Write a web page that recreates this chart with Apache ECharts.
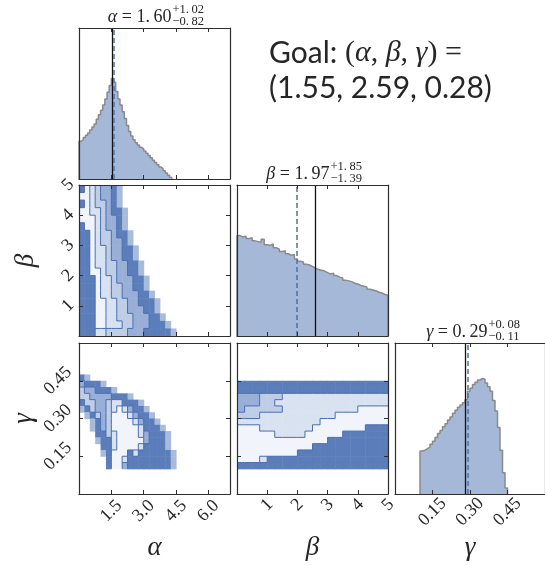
<!DOCTYPE html>
<html><head><meta charset="utf-8">
<script src="https://cdn.jsdelivr.net/npm/echarts@6/dist/echarts.min.js"></script>
<style>html,body{margin:0;padding:0;background:#fff}#c{width:545px;height:565px}</style>
</head><body><div id="c"></div>
<script>
// ---------------- data ----------------
const alphaRange = [0, 7];
const betaRange = [0, 5];
const gammaRange = [0, 0.6];
const alphaTicks = [1.5, 3.0, 4.5, 6.0];
const betaTicks = [1, 2, 3, 4, 5];
const gammaTicks = [0.15, 0.30, 0.45];

const truthValues = { alpha: 1.55, beta: 2.59, gamma: 0.28 };
const medianValues = { alpha: 1.60, beta: 1.97, gamma: 0.29 };
const medianText = { alpha: '1.\u200960', beta: '1.\u200997', gamma: '0.\u200929' };
const upperErr = { alpha: '+1.\u200902', beta: '+1.\u200985', gamma: '+0.\u200908' };
const lowerErr = { alpha: '\u22120.\u200982', beta: '\u22121.\u200939', gamma: '\u22120.\u200911' };

// 1D histograms (relative heights)
const alphaHistStart = 0, alphaHistWidth = 0.1;
const alphaHist = [0.25,0.26,0.275,0.29,0.305,0.325,0.345,0.365,0.395,0.425,0.455,0.49,0.53,0.575,0.62,0.665,0.64,0.58,0.53,0.49,0.445,0.40,0.355,0.315,0.285,0.26,0.24,0.225,0.21,0.20,0.185,0.17,0.155,0.14,0.125,0.11,0.095,0.08,0.068,0.054,0.04,0.025,0.01];
const betaHistStart = 0, betaHistWidth = 0.1;
const betaHist = [0.665,0.655,0.66,0.645,0.65,0.63,0.625,0.62,0.64,0.605,0.60,0.61,0.585,0.575,0.56,0.565,0.545,0.535,0.54,0.51,0.495,0.49,0.475,0.47,0.46,0.45,0.44,0.435,0.43,0.42,0.41,0.415,0.40,0.39,0.385,0.37,0.365,0.36,0.35,0.345,0.335,0.33,0.325,0.31,0.305,0.30,0.29,0.285,0.275,0.27];
const gammaHistStart = 0.10, gammaHistWidth = 0.01;
const gammaHist = [0.285,0.29,0.30,0.31,0.33,0.35,0.375,0.40,0.42,0.445,0.465,0.49,0.51,0.535,0.555,0.575,0.59,0.605,0.625,0.68,0.70,0.725,0.74,0.755,0.765,0.76,0.735,0.71,0.68,0.62,0.55,0.44,0.29,0.14,0.04];

// 2D density shade levels (rows top -> bottom; 0 empty, 1..4 contour fills, 5 dense points, 6 sparse points)
const abCells = { x0: 0, dx: 0.25, y0: 0, dy: 0.25 };
const alphaBetaShade = [
  "512344560000000000",
  "112344560000000000",
  "512334560000000000",
  "112234556000000000",
  "111234456000000000",
  "511234456000000000",
  "551233455600000000",
  "551233445600000000",
  "551223445560000000",
  "551223445560000000",
  "551223344556000000",
  "551123344556000000",
  "555122344455600000",
  "555122334455600000",
  "555122334445560000",
  "555112233445556000",
  "555112233444556000",
  "555112233344455600",
  "555112223344455560",
  "555223333444555556"
];
const agCells = { x0: 0, dx: 0.25, y0: 0.1, dy: 0.025 };
const alphaGammaShade = [
  "560000000000000000",
  "455560000000000000",
  "344555600000000000",
  "334444555600000000",
  "533443225556000000",
  "653443212455600000",
  "065343111245560000",
  "006543111124556000",
  "006543111112555600",
  "000553211112455560",
  "000655211111455560",
  "000055211112555560",
  "000065111525555556",
  "000005112555555556",
  "000005114555555556"
];
const bgCells = { x0: 0, dx: 0.25, y0: 0.1, dy: 0.025 };
const betaGammaShade = [
  "00000000000000000000",
  "55555555555555555555",
  "55555555555555555555",
  "44433322222222222222",
  "44433222222222222222",
  "43333322222222221111",
  "33322222222221111111",
  "22222222222111111111",
  "11122222221111111555",
  "11111222211111555555",
  "11111111111155555555",
  "11111111115555555555",
  "11111111555555555555",
  "11125555555555555555",
  "55555555555555555555"
];

// ---------------- styling / layout ----------------
const SERIF = '"Liberation Serif","DejaVu Serif",serif';
const SANS = 'Lato,"Open Sans",sans-serif';
const INK = '#262626';
const FRAME = '#2e2e2e';
const BLUE = '#4c72b0';
const shadeColors = { 1: '#f1f4fa', 2: '#d9e2f1', 3: '#bfcde7', 4: '#98afd8', 5: '#5b7dba', 6: '#a9bbda' };
const panel = { w: 151, h: 151, cols: [79, 237, 395], rows: [28, 185, 343] };

const dims = {
  alpha: { range: alphaRange, ticks: alphaTicks, fmt: v => v.toFixed(1), xMargin: 17, yMargin: 21, name: 'α' },
  beta:  { range: betaRange,  ticks: betaTicks,  fmt: v => String(v),   xMargin: 11, yMargin: 11, name: 'β' },
  gamma: { range: gammaRange, ticks: gammaTicks, fmt: v => v.toFixed(2), xMargin: 18, yMargin: 21, name: 'γ' }
};

// panels: [row, col, xDim, yDim(null = histogram), showXLabels, showYLabels]
const panels = [
  [0, 0, 'alpha', null, false, false],
  [1, 0, 'alpha', 'beta', false, true],
  [1, 1, 'beta', null, false, false],
  [2, 0, 'alpha', 'gamma', true, true],
  [2, 1, 'beta', 'gamma', true, false],
  [2, 2, 'gamma', null, true, false]
];

const grid = [], xAxis = [], yAxis = [];
const lineStyleFrame = { color: FRAME, width: 1.2 };
const labelFont = { fontFamily: SERIF, fontSize: 18, color: INK };
const nameFont = { fontFamily: SERIF, fontStyle: 'italic', fontSize: 27, color: INK };

panels.forEach(([r, c, xd, yd, sx, sy], gi) => {
  grid.push({ left: panel.cols[c], top: panel.rows[r], width: panel.w, height: panel.h });
  const X = dims[xd];
  ['bottom', 'top'].forEach(pos => {
    const showLab = pos === 'bottom' && sx;
    xAxis.push({
      type: 'value', gridIndex: gi, position: pos, min: X.range[0], max: X.range[1], z: 6,
      axisLine: { show: true, onZero: false, lineStyle: lineStyleFrame },
      axisTick: { show: true, inside: true, length: 4, customValues: X.ticks, lineStyle: { color: FRAME, width: 1 } },
      axisLabel: showLab ? Object.assign({ show: true, customValues: X.ticks, formatter: X.fmt, rotate: 45,
        align: 'center', verticalAlign: 'middle', margin: X.xMargin }, labelFont) : { show: false },
      splitLine: { show: false },
      name: showLab ? X.name : '', nameLocation: 'middle', nameGap: 40, nameTextStyle: nameFont
    });
  });
  ['left', 'right'].forEach(pos => {
    if (yd) {
      const Y = dims[yd];
      const showLab = pos === 'left' && sy;
      yAxis.push({
        type: 'value', gridIndex: gi, position: pos, min: Y.range[0], max: Y.range[1], z: 6,
        axisLine: { show: true, onZero: false, lineStyle: lineStyleFrame },
        axisTick: { show: true, inside: true, length: 4, customValues: Y.ticks, lineStyle: { color: FRAME, width: 1 } },
        axisLabel: showLab ? Object.assign({ show: true, customValues: Y.ticks, formatter: Y.fmt, rotate: 45,
          align: 'center', verticalAlign: 'middle', margin: Y.yMargin }, labelFont) : { show: false },
        splitLine: { show: false },
        name: showLab ? Y.name : '', nameLocation: 'middle', nameGap: 40, nameTextStyle: nameFont
      });
    } else {
      yAxis.push({
        type: 'value', gridIndex: gi, position: pos, min: 0, max: 1, z: 6,
        axisLine: { show: true, onZero: false, lineStyle: lineStyleFrame },
        axisTick: { show: false }, axisLabel: { show: false }, splitLine: { show: false }
      });
    }
  });
});

function stepData(start, width, vals) {
  const d = [[start, 0]];
  vals.forEach((v, i) => d.push([start + i * width, v]));
  const end = start + vals.length * width;
  d.push([end, vals[vals.length - 1]]);
  d.push([end, 0]);
  return d;
}

function histSeries(gi, start, width, vals, truth, median) {
  return {
    type: 'line', xAxisIndex: 2 * gi, yAxisIndex: 2 * gi, step: 'end', symbol: 'none', silent: true,
    data: stepData(start, width, vals), z: 3,
    lineStyle: { color: '#8a8a8a', width: 1.5 },
    areaStyle: { color: '#a5b8d7', opacity: 1 },
    markLine: {
      silent: true, symbol: 'none', label: { show: false }, animation: false,
      data: [
        { xAxis: truth, lineStyle: { color: '#111', width: 1.3, type: 'solid' } },
        { xAxis: median, lineStyle: { color: BLUE, width: 1.5, type: [5, 3] } }
      ]
    }
  };
}

function cellSeries(gi, shade, g) {
  const R = shade.length, data = [];
  shade.forEach((row, r) => {
    for (let c = 0; c < row.length; c++) {
      const lv = +row[c];
      if (!lv) continue;
      const ya = g.y0 + (R - 1 - r) * g.dy;
      data.push([g.x0 + c * g.dx, ya, g.x0 + (c + 1) * g.dx, ya + g.dy, lv]);
    }
  });
  return {
    type: 'custom', xAxisIndex: 2 * gi, yAxisIndex: 2 * gi, silent: true, z: 2, data,
    encode: { x: [0, 2], y: [1, 3] },
    renderItem: (p, api) => {
      const a = api.coord([api.value(0), api.value(3)]);
      const b = api.coord([api.value(2), api.value(1)]);
      return { type: 'rect', shape: { x: a[0], y: a[1], width: b[0] - a[0] + 0.5, height: b[1] - a[1] + 0.5 },
        style: { fill: shadeColors[api.value(4)] } };
    }
  };
}

function contourSeries(gi, shade, g) {
  const R = shade.length, C = shade[0].length, segs = [];
  const lv = (r, c) => +shade[r][c];
  const ok = (a, b) => a !== b && a >= 1 && a <= 5 && b >= 1 && b <= 5;
  for (let r = 0; r < R; r++) {
    for (let c = 0; c < C; c++) {
      const yb = g.y0 + (R - 1 - r) * g.dy, yt = yb + g.dy;
      if (c + 1 < C && ok(lv(r, c), lv(r, c + 1))) {
        const x = g.x0 + (c + 1) * g.dx; segs.push([x, yb, x, yt]);
      }
      if (r + 1 < R && ok(lv(r, c), lv(r + 1, c))) {
        segs.push([g.x0 + c * g.dx, yb, g.x0 + (c + 1) * g.dx, yb]);
      }
    }
  }
  return {
    type: 'custom', xAxisIndex: 2 * gi, yAxisIndex: 2 * gi, silent: true, z: 3, data: segs,
    encode: { x: [0, 2], y: [1, 3] },
    renderItem: (p, api) => {
      const a = api.coord([api.value(0), api.value(1)]);
      const b = api.coord([api.value(2), api.value(3)]);
      return { type: 'line', shape: { x1: a[0], y1: a[1], x2: b[0], y2: b[1] },
        style: { stroke: '#4a6fb0', lineWidth: 1 } };
    }
  };
}

const series = [
  histSeries(0, alphaHistStart, alphaHistWidth, alphaHist, truthValues.alpha, medianValues.alpha),
  cellSeries(1, alphaBetaShade, abCells), contourSeries(1, alphaBetaShade, abCells),
  histSeries(2, betaHistStart, betaHistWidth, betaHist, truthValues.beta, medianValues.beta),
  cellSeries(3, alphaGammaShade, agCells), contourSeries(3, alphaGammaShade, agCells),
  cellSeries(4, betaGammaShade, bgCells), contourSeries(4, betaGammaShade, bgCells),
  histSeries(5, gammaHistStart, gammaHistWidth, gammaHist, truthValues.gamma, medianValues.gamma)
];

function titleEls(cx, top, sym, key) {
  return [
    { type: 'text', x: cx + 17, y: top - 11, silent: true,
      style: { text: '{i|' + sym + '}{r| = ' + medianText[key] + '}', align: 'right', verticalAlign: 'middle',
        rich: { i: { fontFamily: SERIF, fontStyle: 'italic', fontSize: 18, fill: INK },
                r: { fontFamily: SERIF, fontSize: 18, fill: INK } } } },
    { type: 'text', x: cx + 18, y: top - 18, silent: true,
      style: { text: upperErr[key], fontFamily: SERIF, fontSize: 12.5, fill: INK, align: 'left', verticalAlign: 'middle' } },
    { type: 'text', x: cx + 18, y: top - 6, silent: true,
      style: { text: lowerErr[key], fontFamily: SERIF, fontSize: 12.5, fill: INK, align: 'left', verticalAlign: 'middle' } }
  ];
}

const cx = i => panel.cols[i] + panel.w / 2;
const graphic = [].concat(
  titleEls(cx(0), panel.rows[0], 'α', 'alpha'),
  titleEls(cx(1), panel.rows[1], 'β', 'beta'),
  titleEls(cx(2), panel.rows[2], 'γ', 'gamma'),
  [
    { type: 'text', x: 269, y: 53, silent: true,
      style: { text: '{s|Goal: }{m|(}{i|α}{m|, }{i|β}{m|, }{i|γ}{m|) =}', verticalAlign: 'middle',
        rich: { s: { fontFamily: SANS, fontSize: 30, fill: INK },
                m: { fontFamily: SERIF, fontSize: 30, fill: INK },
                i: { fontFamily: SERIF, fontStyle: 'italic', fontSize: 30, fill: INK } } } },
    { type: 'text', x: 269, y: 88, silent: true,
      style: { text: '(1.55, 2.59, 0.28)', fontFamily: SANS, fontSize: 30, fill: INK, verticalAlign: 'middle' } }
  ]
);

const chart = echarts.init(document.getElementById('c'), null, { renderer: 'canvas' });
chart.setOption({ animation: false, backgroundColor: '#fff', grid, xAxis, yAxis, series, graphic });
</script></body></html>
